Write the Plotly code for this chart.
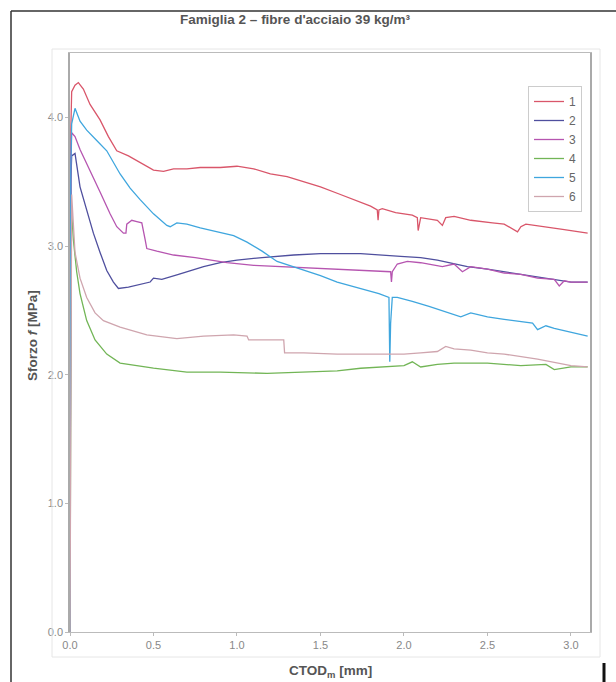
import plotly.graph_objects as go

# ---- data ----
x1 = [0, 0.005, 0.01, 0.03, 0.05, 0.08, 0.12, 0.18, 0.23, 0.28, 0.35, 0.42, 0.5, 0.56, 0.62, 0.7, 0.78, 0.9, 1.0, 1.1, 1.2, 1.3, 1.38, 1.5, 1.6, 1.7, 1.8, 1.84, 1.845, 1.85, 1.87, 1.95, 2.05, 2.08, 2.085, 2.1, 2.2, 2.23, 2.25, 2.3, 2.4, 2.53, 2.6, 2.68, 2.7, 2.73, 2.85, 2.95, 3.05, 3.1]
y1 = [0, 3.9, 4.2, 4.25, 4.27, 4.22, 4.1, 3.98, 3.85, 3.74, 3.7, 3.65, 3.59, 3.58, 3.6, 3.6, 3.61, 3.61, 3.62, 3.6, 3.56, 3.54, 3.51, 3.46, 3.41, 3.36, 3.31, 3.28, 3.2, 3.28, 3.29, 3.26, 3.24, 3.22, 3.12, 3.22, 3.2, 3.16, 3.22, 3.23, 3.2, 3.18, 3.17, 3.11, 3.15, 3.17, 3.15, 3.13, 3.11, 3.1]

x2 = [0, 0.005, 0.01, 0.03, 0.06, 0.1, 0.14, 0.18, 0.22, 0.26, 0.29, 0.35, 0.42, 0.48, 0.5, 0.55, 0.65, 0.8, 0.9, 1.0, 1.15, 1.34, 1.5, 1.74, 1.98, 2.1, 2.2, 2.3, 2.38, 2.5, 2.6, 2.7, 2.8, 2.9, 3.0, 3.1]
y2 = [0, 3.5, 3.7, 3.72, 3.46, 3.28, 3.1, 2.95, 2.81, 2.72, 2.67, 2.68, 2.7, 2.72, 2.75, 2.74, 2.78, 2.84, 2.87, 2.89, 2.91, 2.93, 2.94, 2.94, 2.92, 2.91, 2.89, 2.86, 2.84, 2.82, 2.8, 2.78, 2.76, 2.74, 2.72, 2.72]

x3 = [0, 0.005, 0.01, 0.03, 0.06, 0.12, 0.18, 0.24, 0.28, 0.32, 0.335, 0.34, 0.37, 0.4, 0.43, 0.45, 0.46, 0.52, 0.62, 0.75, 0.94, 1.1, 1.26, 1.5, 1.74, 1.92, 1.925, 1.93, 1.96, 2.02, 2.1, 2.23, 2.3, 2.35, 2.4, 2.5, 2.6, 2.7, 2.8, 2.9, 2.93, 2.96, 3.0, 3.1]
y3 = [0, 3.6, 3.88, 3.85, 3.75, 3.59, 3.42, 3.25, 3.15, 3.1, 3.1, 3.17, 3.2, 3.19, 3.18, 3.05, 2.98, 2.96, 2.93, 2.91, 2.87, 2.85, 2.84, 2.83, 2.81, 2.8, 2.72, 2.8, 2.86, 2.88, 2.87, 2.84, 2.86, 2.8, 2.84, 2.82, 2.79, 2.78, 2.75, 2.74, 2.69, 2.73, 2.72, 2.72]

x4 = [0, 0.003, 0.008, 0.02, 0.04, 0.06, 0.1, 0.15, 0.22, 0.3, 0.4, 0.5, 0.7, 0.9, 1.18, 1.4, 1.6, 1.74, 1.9, 2.0, 2.05, 2.1, 2.2, 2.3, 2.5, 2.7, 2.85, 2.9, 3.0, 3.1]
y4 = [0, 2.5, 3.3, 3.05, 2.8, 2.63, 2.42, 2.27, 2.16, 2.09, 2.07, 2.05, 2.02, 2.02, 2.01, 2.02, 2.03, 2.05, 2.06, 2.07, 2.1, 2.06, 2.08, 2.09, 2.09, 2.07, 2.08, 2.04, 2.06, 2.06]

x5 = [0, 0.005, 0.01, 0.03, 0.06, 0.1, 0.16, 0.22, 0.3, 0.36, 0.42, 0.5, 0.58, 0.6, 0.64, 0.7, 0.78, 0.88, 0.98, 1.06, 1.15, 1.24, 1.38, 1.5, 1.6, 1.74, 1.85, 1.91, 1.915, 1.92, 1.93, 1.96, 2.05, 2.15, 2.25, 2.34, 2.4, 2.5, 2.6, 2.7, 2.77, 2.8, 2.85, 2.9, 3.0, 3.1]
y5 = [0, 3.6, 3.95, 4.07, 3.97, 3.9, 3.82, 3.74, 3.56, 3.45, 3.36, 3.25, 3.16, 3.15, 3.18, 3.17, 3.14, 3.11, 3.08, 3.03, 2.96, 2.88, 2.82, 2.77, 2.72, 2.67, 2.63, 2.6, 2.1, 2.4, 2.6, 2.6, 2.57, 2.53, 2.49, 2.45, 2.48, 2.45, 2.43, 2.41, 2.4, 2.35, 2.38, 2.36, 2.33, 2.3]

x6 = [0, 0.005, 0.01, 0.03, 0.06, 0.1, 0.15, 0.2, 0.3, 0.46, 0.64, 0.8, 0.98, 1.06, 1.07, 1.2, 1.28, 1.285, 1.4, 1.6, 1.8, 2.0, 2.1, 2.2, 2.25, 2.3, 2.4, 2.5, 2.6, 2.8, 3.0, 3.1]
y6 = [0, 3.0, 3.4, 2.95, 2.75, 2.6, 2.48, 2.42, 2.37, 2.31, 2.28, 2.3, 2.31, 2.3, 2.27, 2.27, 2.27, 2.17, 2.17, 2.16, 2.16, 2.16, 2.17, 2.18, 2.22, 2.2, 2.19, 2.17, 2.16, 2.12, 2.07, 2.06]

names = ["1", "2", "3", "4", "5", "6"]
xs = [x1, x2, x3, x4, x5, x6]
ys = [y1, y2, y3, y4, y5, y6]
colors = ["#d9566a", "#4f4f9e", "#b655b0", "#72b556", "#3fa6de", "#cfa5ae"]

x_ticks = [0, 0.5, 1.0, 1.5, 2.0, 2.5, 3.0]
y_ticks = [0, 1, 2, 3, 4]

fig = go.Figure()
for n, x, y, c in zip(names, xs, ys, colors):
    fig.add_trace(go.Scatter(x=x, y=y, name=n, mode="lines",
                             line=dict(color=c, width=1.3)))

font = "Liberation Sans, Arial, sans-serif"
L, R, T, B = 70, 26, 53, 50
PW, PH = 616 - L - R, 682 - T - B


def px(xp):
    return (xp - L) / PW


def py(yp):
    return (682 - B - yp) / PH


fig.update_layout(
    width=616, height=682, autosize=False,
    margin=dict(l=L, r=R, t=T, b=B),
    paper_bgcolor="white", plot_bgcolor="white",
    font=dict(family=font, size=11, color="#888"),
    title=dict(text="<b>Famiglia 2 – fibre d'acciaio 39 kg/m³</b>",
               x=295 / 616, xanchor="center", y=1 - 19 / 682, yanchor="middle",
               font=dict(size=13.5, color="#555", family=font)),
    showlegend=True,
    legend=dict(x=px(528), y=py(86), xanchor="left", yanchor="top",
                bgcolor="white", bordercolor="#ccc", borderwidth=1,
                font=dict(size=12, color="#666"), tracegroupgap=0,
                itemwidth=30),
    xaxis=dict(range=[0, 3.114], tickvals=x_ticks, tickformat=".1f",
               automargin=False, ticklabeloverflow="allow",
               showgrid=False, zeroline=False, showline=True,
               linecolor="#bbb", linewidth=1, mirror=True,
               ticks="outside", ticklen=3, tickcolor="#bbb",
               tickfont=dict(size=11, color="#888")),
    yaxis=dict(range=[0, 4.5], tickvals=y_ticks, tickformat=".1f",
               automargin=False, ticklabeloverflow="allow",
               showgrid=False, zeroline=False, showline=True,
               linecolor="#aaa", linewidth=1.5, mirror=True,
               ticks="outside", ticklen=3, tickcolor="#bbb",
               tickfont=dict(size=11, color="#888")),
    annotations=[
        dict(text="<b>CTOD<sub>m</sub> [mm]</b>", xref="paper", yref="paper",
             x=0.5, y=py(671), xanchor="center", yanchor="middle",
             showarrow=False, font=dict(size=13.5, color="#555", family=font)),
        dict(text="<b>Sforzo <i>f</i> [MPa]</b>", xref="paper", yref="paper",
             x=px(32), y=py(336), xanchor="center", yanchor="middle",
             textangle=-90, showarrow=False,
             font=dict(size=13.5, color="#555", family=font)),
    ],
)

# outer black frame (top and left), faint surrounding frame, corner mark
fig.add_shape(type="line", xref="paper", yref="paper", x0=px(11), x1=px(620),
              y0=py(11), y1=py(11), line=dict(color="#333", width=1.5))
fig.add_shape(type="line", xref="paper", yref="paper", x0=px(11), x1=px(11),
              y0=py(690), y1=py(11), line=dict(color="#333", width=1.5))
fig.add_shape(type="rect", xref="paper", yref="paper", x0=px(52), x1=px(600),
              y0=py(657), y1=py(49), line=dict(color="#e6e6e6", width=1))
fig.add_shape(type="line", xref="paper", yref="paper", x0=px(604), x1=px(604),
              y0=py(663), y1=py(682), line=dict(color="#111", width=3))

fig.write_html("out.html", config={"displayModeBar": False},
               post_script="document.body.style.margin='0px';document.body.style.overflow='hidden';")
